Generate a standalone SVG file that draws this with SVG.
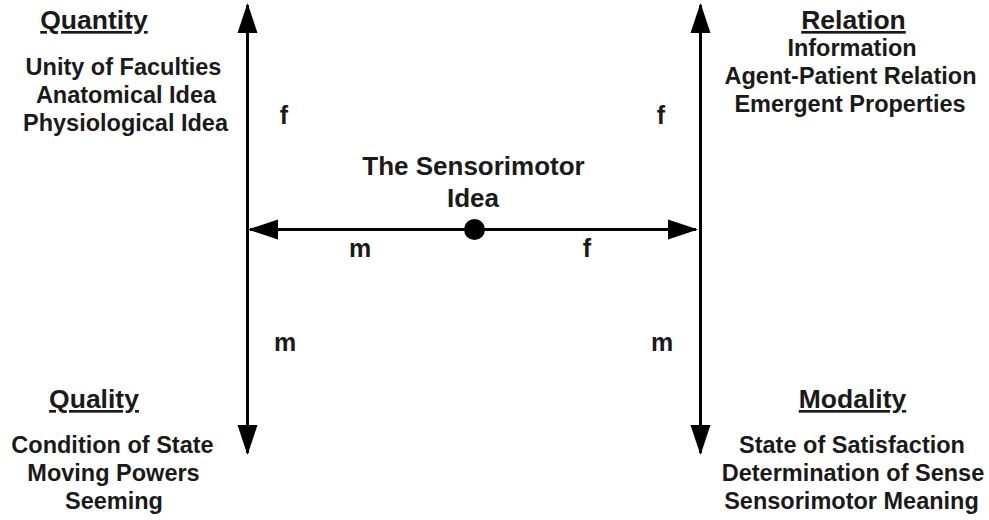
<svg xmlns="http://www.w3.org/2000/svg" width="989" height="520" viewBox="0 0 989 520">
<style>
text{font-family:"Liberation Sans",Arial,sans-serif;font-weight:bold;fill:#1a1a1a;text-anchor:middle}
.h{font-size:26.5px;text-decoration:underline}
.b{font-size:23.5px}
.c{font-size:26px}
.l{font-size:25px}
.ln{stroke:#000;stroke-width:3;fill:none;marker-start:url(#ah);marker-end:url(#ah)}
</style>
<defs>
<marker id="ah" markerUnits="userSpaceOnUse" markerWidth="30" markerHeight="22" refX="28" refY="10" orient="auto-start-reverse" viewBox="0 0 30 20">
<path d="M0,0 L30,10 L0,20 Z" fill="#000"/>
</marker>
</defs>
<rect width="989" height="520" fill="#fff"/>
<g id="connectors">
<line class="ln" x1="247.5" y1="5" x2="247.5" y2="453"/>
<line class="ln" x1="700.5" y1="5" x2="700.5" y2="453"/>
<line class="ln" x1="250" y1="229.5" x2="696" y2="229.5"/>
<text class="l" x="284" y="124">f</text>
<text class="l" x="661" y="124">f</text>
<text class="l" x="360" y="257">m</text>
<text class="l" x="587" y="257">f</text>
<text class="l" x="285" y="351">m</text>
<text class="l" x="662" y="351">m</text>
</g>
<g id="quantity">
<text class="h" x="94" y="29">Quantity</text>
<text class="b" x="123.5" y="75">Unity of Faculties</text>
<text class="b" x="126" y="103">Anatomical Idea</text>
<text class="b" x="125.5" y="131">Physiological Idea</text>
</g>
<g id="relation">
<text class="h" x="853.5" y="29">Relation</text>
<text class="b" x="852" y="56">Information</text>
<text class="b" x="850.5" y="84">Agent-Patient Relation</text>
<text class="b" x="850" y="112">Emergent Properties</text>
</g>
<g id="quality">
<text class="h" x="94" y="408">Quality</text>
<text class="b" x="112.5" y="453">Condition of State</text>
<text class="b" x="113.5" y="481">Moving Powers</text>
<text class="b" x="114" y="509">Seeming</text>
</g>
<g id="modality">
<text class="h" x="852.5" y="408">Modality</text>
<text class="b" x="852" y="453">State of Satisfaction</text>
<text class="b" x="853" y="481">Determination of Sense</text>
<text class="b" x="851.5" y="509">Sensorimotor Meaning</text>
</g>
<g id="sensorimotor">
<text class="c" x="473.5" y="175">The Sensorimotor</text>
<text class="c" x="473" y="207">Idea</text>
<circle cx="474.5" cy="229.5" r="10.5" fill="#000"/>
</g>
</svg>
